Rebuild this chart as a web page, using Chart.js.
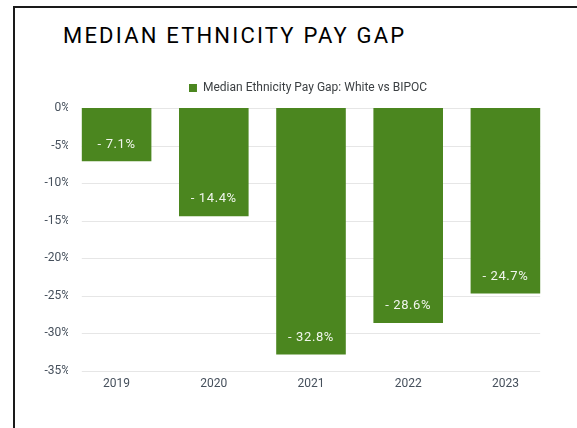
<!DOCTYPE html>
<html>
<head>
<meta charset="utf-8">
<script src="https://cdn.jsdelivr.net/npm/chart.js@4"></script>
<style>
  html, body { margin: 0; padding: 0; background: #fff; overflow: hidden; }
  body { width: 577px; height: 428px; position: relative; }
  #frame {
    position: absolute; left: 13px; top: 6px; width: 620px; height: 480px;
    border: 2px solid #1a1a1a; box-sizing: border-box;
  }
  #heading {
    position: absolute; left: 63px; top: 25px; margin: 0;
    font: 400 22px/22px Roboto, sans-serif; letter-spacing: 2.2px;
    color: #000; white-space: nowrap;
  }
  #wrap { position: absolute; left: 0; top: 0; width: 577px; height: 428px; }
</style>
</head>
<body>
<div id="frame"></div>
<h1 id="heading">MEDIAN ETHNICITY PAY GAP</h1>
<div id="wrap"><canvas id="gapChart"></canvas></div>
<script>
const years = ["2019", "2020", "2021", "2022", "2023"];
const payGap = [-7.1, -14.4, -32.8, -28.6, -24.7];
const seriesName = "Median Ethnicity Pay Gap: White vs BIPOC";
const yTicks = [0, -5, -10, -15, -20, -25, -30, -35];

const green = "#4b861f";
const tickColor = "#46505c";

// horizontal grid that only runs from the first bar's left edge to the last bar's right edge
const shortGrid = {
  id: "shortGrid",
  beforeDatasetsDraw(chart) {
    const ctx = chart.ctx;
    const bars = chart.getDatasetMeta(0).data;
    const first = bars[0];
    const last = bars[bars.length - 1];
    const x0 = first.x - first.width / 2;
    const x1 = last.x + last.width / 2;
    const y = chart.scales.y;
    ctx.save();
    ctx.strokeStyle = "#e6e6e6";
    ctx.lineWidth = 1;
    yTicks.forEach(function (v) {
      const py = Math.round(y.getPixelForValue(v)) + 0.5;
      ctx.beginPath();
      ctx.moveTo(x0, py);
      ctx.lineTo(x1, py);
      ctx.stroke();
    });
    ctx.restore();
  },
};

// white value labels sitting just inside the end of each bar
const barValues = {
  id: "barValues",
  afterDatasetsDraw(chart) {
    const ctx = chart.ctx;
    const meta = chart.getDatasetMeta(0);
    ctx.save();
    ctx.font = "400 13px Roboto, sans-serif";
    ctx.fillStyle = "rgba(255,255,255,0.92)";
    ctx.textAlign = "center";
    ctx.textBaseline = "middle";
    if ("letterSpacing" in ctx) ctx.letterSpacing = "0.6px";
    meta.data.forEach(function (bar, i) {
      const v = payGap[i];
      const text = "- " + Math.abs(v).toFixed(1) + "%";
      ctx.fillText(text, bar.x, bar.y - 17);
    });
    ctx.restore();
  },
};

// a little more room under the legend, and centre it over the bars
const legendGap = {
  id: "legendGap",
  afterInit(chart) {
    const legend = chart.legend;
    const fit = legend.fit;
    legend.fit = function () {
      fit.call(this);
      this.height += 4;
    };
  },
  afterLayout(chart) {
    chart.legend.left += 42;
  },
};

const config = {
  type: "bar",
  data: {
    labels: years,
    datasets: [
      {
        label: seriesName,
        data: payGap,
        backgroundColor: green,
        borderWidth: 0,
        barPercentage: 0.716,
        categoryPercentage: 1,
      },
    ],
  },
  options: {
    responsive: true,
    maintainAspectRatio: false,
    animation: false,
    layout: { padding: { left: 20, right: 23, top: 76, bottom: 0 } },
    plugins: {
      title: { display: false },
      tooltip: { enabled: false },
      legend: {
        position: "top",
        labels: {
          boxWidth: 8,
          boxHeight: 8,
          padding: 6,
          color: "#3c4043",
          font: { family: "Roboto, sans-serif", size: 12 },
        },
      },
    },
    scales: {
      x: {
        grid: { display: false, drawTicks: false },
        border: { display: false },
        ticks: {
          color: tickColor,
          padding: 6,
          font: { family: "Roboto, sans-serif", size: 12 },
        },
        afterFit(scale) {
          scale.height = 57;
        },
      },
      y: {
        min: -35,
        max: 0,
        afterBuildTicks(scale) {
          scale.ticks = yTicks.map(function (v) {
            return { value: v };
          });
        },
        grid: { display: false, drawTicks: false },
        border: { display: false },
        ticks: {
          color: tickColor,
          padding: -2,
          font: { family: "Roboto, sans-serif", size: 12 },
          callback: function (v) {
            return v + "%";
          },
        },
        afterFit(scale) {
          scale.width = 48;
        },
      },
    },
  },
  plugins: [shortGrid, barValues, legendGap],
};

new Chart(document.getElementById("gapChart"), config);
</script>
</body>
</html>
